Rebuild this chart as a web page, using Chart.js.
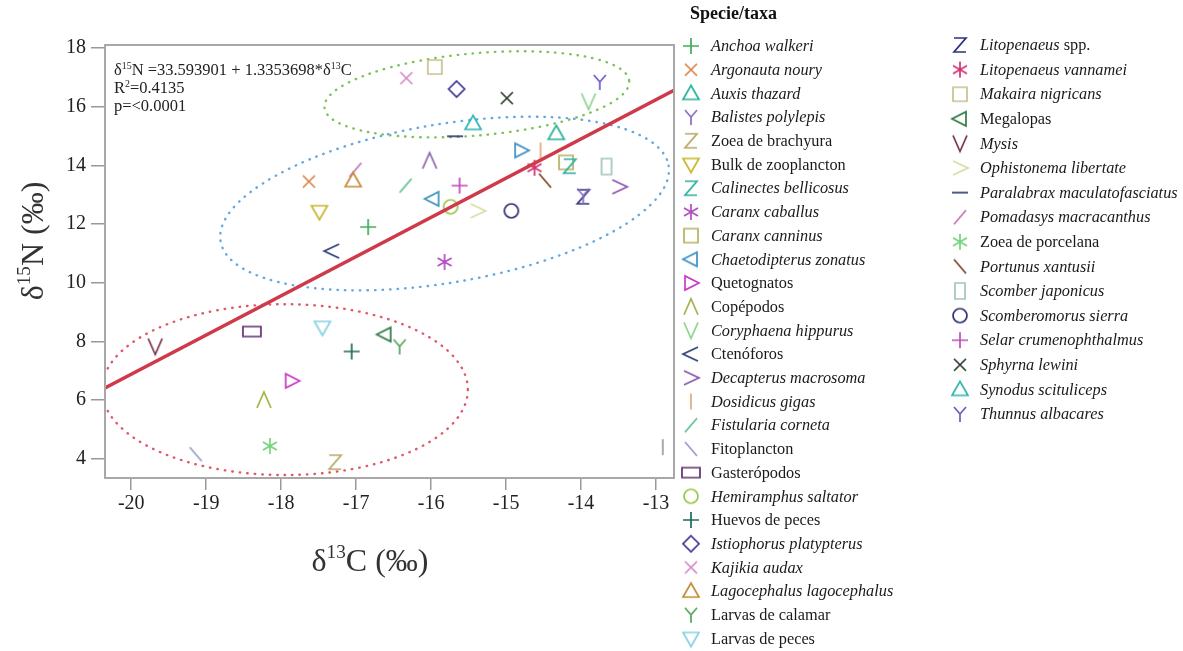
<!DOCTYPE html>
<html>
<head>
<meta charset="utf-8">
<script src="https://cdn.jsdelivr.net/npm/chart.js@4"></script>
<style>
  body { margin: 0; background: #fff; }
  #wrap { width: 1183px; height: 651px; }
</style>
</head>
<body>
<div id="wrap"><canvas id="myChart" width="1183" height="651"></canvas></div>
<script>
// species / taxa, in legend order
const species = [
  'Anchoa walkeri', 'Argonauta noury', 'Auxis thazard', 'Balistes polylepis', 'Zoea de brachyura',
  'Bulk de zooplancton', 'Calinectes bellicosus', 'Caranx caballus', 'Caranx canninus', 'Chaetodipterus zonatus',
  'Quetognatos', 'Copépodos', 'Coryphaena hippurus', 'Ctenóforos', 'Decapterus macrosoma',
  'Dosidicus gigas', 'Fistularia corneta', 'Fitoplancton', 'Gasterópodos', 'Hemiramphus saltator',
  'Huevos de peces', 'Istiophorus platypterus', 'Kajikia audax', 'Lagocephalus lagocephalus', 'Larvas de calamar',
  'Larvas de peces',
  'Litopenaeus spp.', 'Litopenaeus vannamei', 'Makaira nigricans', 'Megalopas', 'Mysis',
  'Ophistonema libertate', 'Paralabrax maculatofasciatus', 'Pomadasys macracanthus', 'Zoea de porcelana', 'Portunus xantusii',
  'Scomber japonicus', 'Scomberomorus sierra', 'Selar crumenophthalmus', 'Sphyrna lewini', 'Synodus scituliceps',
  'Thunnus albacares'
];
// scientific names are set in italics
const isTaxon = [
  true, true, true, true, false,
  false, true, true, true, true,
  false, false, true, false, true,
  true, true, false, false, true,
  false, true, true, true, false,
  false,
  true, true, true, false, true,
  true, true, true, false, true,
  true, true, true, true, true,
  true
];
// mean δ13C (‰)
const d13C = [
  -16.84, -17.63, -14.33, -13.97, -17.28,
  -17.49, -14.15, -15.82, -14.20, -15.98,
  -17.86, -18.23, -13.90, -17.32, -13.49,
  -14.54, -16.34, -19.14, -18.39, -15.74,
  -17.06, -15.66, -16.33, -17.04, -16.42,
  -17.45,
  -13.97, -14.62, -15.95, -16.62, -19.68,
  -15.38, -15.68, -17.01, -18.15, -14.48,
  -13.66, -14.93, -15.62, -14.99, -15.44,
  -13.75
];
// mean δ15N (‰)
const d15N = [
  11.90, 13.45, 15.09, 12.97, 3.89,
  12.42, 13.97, 10.71, 14.10, 12.86,
  6.66, 6.01, 16.18, 11.08, 13.27,
  14.51, 13.31, 4.16, 8.34, 12.59,
  7.66, 16.60, 16.97, 13.48, 7.83,
  8.48,
  12.93, 13.92, 17.35, 8.24, 7.83,
  12.45, 14.99, 13.85, 4.44, 13.48,
  13.96, 12.45, 13.31, 16.29, 15.43,
  16.84
];
const shapes = [
  'plus', 'cross', 'triUp', 'y', 'z',
  'triDown', 'z', 'star', 'square', 'triLeft',
  'triRight', 'caret', 'vee', 'less', 'greater',
  'bar', 'slash', 'backslash', 'wideRect', 'circle',
  'plus', 'diamond', 'cross', 'triUp', 'y',
  'triDown',
  'z', 'star', 'square', 'triLeft', 'vee',
  'greater', 'dash', 'slash', 'star', 'backslash',
  'tallRect', 'circle', 'plus', 'cross', 'triUp',
  'y'
];
const colors = [
  '#3fae5a', '#d9834a', '#27b39b', '#8b6cc4', '#b8a868',
  '#c9b62e', '#2bb0a0', '#b04cc0', '#b8b060', '#3a94bf',
  '#c83cc4', '#a2b043', '#86d48a', '#2f3c78', '#8a55a8',
  '#e4a878', '#5cc08e', '#9a9ccc', '#5e2f6e', '#98c84a',
  '#1f6a5c', '#3e3494', '#d688c6', '#c48c38', '#4fa656',
  '#86d2e4',
  '#2f2f7c', '#d43070', '#c8c090', '#2f7a44', '#7a2f44',
  '#d2e0a2', '#2f3c78', '#c074b6', '#72d47a', '#7c4424',
  '#a2c8b6', '#2f2f74', '#c04cbc', '#2c3c2c', '#2fb4b4',
  '#6a5cc4'
];

// unlabelled marks
const extraC = [-16.02, -14.80, -12.91];
const extraN = [14.16, 14.51, 4.40];
const extraShapes = ['caret', 'triRight', 'bar'];
const extraColors = ['#8a60a8', '#3d8fc0', '#9a9aa8'];

// fitted regression δ15N = a + b·δ13C
const fitIntercept = 33.593901;
const fitSlope = 1.3353698;

// trophic groups: centre (δ13C, δ15N), half-axes in axis units, tilt in degrees
const groupCx = [-15.39, -15.82, -17.95];
const groupCy = [16.42, 12.70, 6.36];
const groupRx = [2.04, 3.03, 2.44];
const groupRy = [1.40, 2.70, 2.91];
const groupTilt = [-5, -9.6, 0];
const groupColors = ['#7cc35a', '#63a8e0', '#e0586a'];

const xMin = -20.35, xMax = -12.76;
const yMin = 3.35, yMax = 18.1;

const SERIF = '"Liberation Serif", "Times New Roman", serif';

function makeMarker(shape, color) {
  const c = document.createElement('canvas');
  c.width = 24; c.height = 24;
  const g = c.getContext('2d');
  g.translate(12, 12);
  g.strokeStyle = color;
  g.lineWidth = 1.7;
  g.beginPath();
  switch (shape) {
    case 'plus': g.moveTo(-8, 0); g.lineTo(8, 0); g.moveTo(0, -8); g.lineTo(0, 8); break;
    case 'cross': g.moveTo(-6, -6); g.lineTo(6, 6); g.moveTo(6, -6); g.lineTo(-6, 6); break;
    case 'triUp': g.moveTo(0, -8); g.lineTo(8, 6); g.lineTo(-8, 6); g.closePath(); break;
    case 'triDown': g.moveTo(0, 8); g.lineTo(8, -6); g.lineTo(-8, -6); g.closePath(); break;
    case 'triLeft': g.moveTo(-8, 0); g.lineTo(6, -7); g.lineTo(6, 7); g.closePath(); break;
    case 'triRight': g.moveTo(8, 0); g.lineTo(-6, -7); g.lineTo(-6, 7); g.closePath(); break;
    case 'y': g.moveTo(-6, -7); g.lineTo(0, 0); g.lineTo(6, -7); g.moveTo(0, 0); g.lineTo(0, 8); break;
    case 'z': g.moveTo(-6, -7); g.lineTo(6, -7); g.lineTo(-6, 7); g.lineTo(6, 7); break;
    case 'vee': g.moveTo(-7, -8); g.lineTo(0, 8); g.lineTo(7, -8); break;
    case 'caret': g.moveTo(-7, 8); g.lineTo(0, -8); g.lineTo(7, 8); break;
    case 'less': g.moveTo(7, -7); g.lineTo(-8, 0); g.lineTo(7, 7); break;
    case 'greater': g.moveTo(-7, -7); g.lineTo(8, 0); g.lineTo(-7, 7); break;
    case 'bar': g.moveTo(0, -8); g.lineTo(0, 8); break;
    case 'slash': g.moveTo(-6, 7); g.lineTo(6, -7); break;
    case 'backslash': g.moveTo(-6, -7); g.lineTo(6, 7); break;
    case 'dash': g.moveTo(-8, 0); g.lineTo(8, 0); break;
    case 'star':
      g.moveTo(0, -8); g.lineTo(0, 8);
      g.moveTo(-7, -4); g.lineTo(7, 4);
      g.moveTo(-7, 4); g.lineTo(7, -4);
      break;
    case 'square': g.rect(-7, -7, 14, 14); break;
    case 'wideRect': g.rect(-9, -5, 18, 10); break;
    case 'tallRect': g.rect(-5, -8, 10, 16); break;
    case 'circle': g.arc(0, 0, 7, 0, Math.PI * 2); break;
    case 'diamond': g.moveTo(0, -8); g.lineTo(8, 0); g.lineTo(0, 8); g.lineTo(-8, 0); g.closePath(); break;
  }
  g.stroke();
  return c;
}

const markers = species.map((_, i) => makeMarker(shapes[i], colors[i]));
const extraMarkers = extraShapes.map((s, i) => makeMarker(s, extraColors[i]));

// text with superscripts: parts = [{t, sup, it, bold}]
function drawRich(ctx, parts, x, y, size, align) {
  const fontFor = p => {
    const s = p.sup ? size * 0.6 : size;
    return (p.it ? 'italic ' : '') + (p.bold ? 'bold ' : '') + s + 'px ' + SERIF;
  };
  let total = 0;
  parts.forEach(p => { ctx.font = fontFor(p); total += ctx.measureText(p.t).width; });
  let cx = align === 'center' ? x - total / 2 : x;
  ctx.textAlign = 'left';
  ctx.textBaseline = 'middle';
  parts.forEach(p => {
    ctx.font = fontFor(p);
    ctx.fillText(p.t, cx, p.sup ? y - size * 0.3 : y);
    cx += ctx.measureText(p.t).width;
  });
}

const decorPlugin = {
  id: 'decor',
  beforeDatasetsDraw(chart) {
    const { ctx, chartArea: a, scales: { x, y } } = chart;
    ctx.save();
    ctx.beginPath();
    ctx.rect(a.left, a.top, a.right - a.left, a.bottom - a.top);
    ctx.clip();
    ctx.setLineDash([0.5, 7]);
    ctx.lineCap = 'round';
    ctx.lineWidth = 2.4;
    groupCx.forEach((gx, i) => {
      const px = x.getPixelForValue(gx), py = y.getPixelForValue(groupCy[i]);
      const rx = Math.abs(x.getPixelForValue(gx + groupRx[i]) - px);
      const ry = Math.abs(y.getPixelForValue(groupCy[i] + groupRy[i]) - py);
      ctx.save();
      ctx.translate(px, py);
      ctx.rotate(groupTilt[i] * Math.PI / 180);
      ctx.beginPath();
      ctx.ellipse(0, 0, rx, ry, 0, 0, Math.PI * 2);
      ctx.strokeStyle = groupColors[i];
      ctx.stroke();
      ctx.restore();
    });
    ctx.restore();
  },
  afterDraw(chart) {
    const { ctx, chartArea: a } = chart;
    ctx.save();
    // plot frame
    ctx.strokeStyle = '#a8a8a8';
    ctx.lineWidth = 2;
    ctx.strokeRect(a.left, a.top, a.right - a.left, a.bottom - a.top);

    // regression statistics
    ctx.fillStyle = '#222';
    drawRich(ctx, [{ t: 'δ' }, { t: '15', sup: true }, { t: 'N =33.593901 + 1.3353698*δ' }, { t: '13', sup: true }, { t: 'C' }], a.left + 9, 71, 16.5);
    drawRich(ctx, [{ t: 'R' }, { t: '2', sup: true }, { t: '=0.4135' }], a.left + 9, 89, 16.5);
    drawRich(ctx, [{ t: 'p=<0.0001' }], a.left + 9, 107, 16.5);

    // axis titles
    ctx.fillStyle = '#333';
    drawRich(ctx, [{ t: 'δ' }, { t: '13', sup: true }, { t: 'C (‰)' }], 370, 563, 32, 'center');
    ctx.save();
    ctx.translate(35, 241);
    ctx.rotate(-Math.PI / 2);
    drawRich(ctx, [{ t: 'δ' }, { t: '15', sup: true }, { t: 'N (‰)' }], 0, 0, 32, 'center');
    ctx.restore();

    // legend
    ctx.fillStyle = '#111';
    drawRich(ctx, [{ t: 'Specie/taxa', bold: true }], 690, 14, 18);
    species.forEach((name, i) => {
      const col = i < 26 ? 0 : 1;
      const row = col === 0 ? i : i - 26;
      const mx = col === 0 ? 691 : 960;
      const my = col === 0 ? 46 + row * 23.7 : 45 + row * 24.6;
      ctx.drawImage(markers[i], mx - 12, my - 12);
      let parts;
      if (name.endsWith(' spp.')) {
        parts = [{ t: name.slice(0, -4), it: true }, { t: 'spp.' }];
      } else {
        parts = [{ t: name, it: isTaxon[i] }];
      }
      ctx.fillStyle = '#1a1a1a';
      drawRich(ctx, parts, mx + 20, my + 1, 16.3);
    });
    ctx.restore();
  }
};

const datasets = species.map((name, i) => ({
  label: name,
  data: [{ x: d13C[i], y: d15N[i] }],
  pointStyle: markers[i],
  pointRadius: 9,
  order: 2
}));
datasets.push({
  label: '',
  data: extraC.map((c, i) => ({ x: c, y: extraN[i] })),
  pointStyle: extraMarkers,
  pointRadius: 9,
  order: 2
});
datasets.push({
  label: 'fit',
  data: [xMin, xMax].map(c => ({ x: c, y: fitIntercept + fitSlope * c })),
  showLine: true,
  borderColor: '#cf3a4a',
  borderWidth: 3.5,
  pointRadius: 0,
  order: 1
});

const tickFont = { family: SERIF, size: 20 };

new Chart(document.getElementById('myChart'), {
  type: 'scatter',
  data: { datasets },
  options: {
    responsive: false,
    animation: false,
    devicePixelRatio: 1,
    layout: { padding: { left: 0, top: 45, right: 509, bottom: 0 } },
    plugins: { legend: { display: false }, tooltip: { enabled: false } },
    scales: {
      x: {
        type: 'linear',
        min: xMin, max: xMax,
        ticks: { stepSize: 1, includeBounds: false, font: tickFont, color: '#222', padding: 2 },
        grid: { drawOnChartArea: false, drawTicks: true, tickLength: 12, color: '#999', lineWidth: 1.5 },
        border: { display: false },
        afterFit(scale) { scale.height = 173; }
      },
      y: {
        type: 'linear',
        min: yMin, max: yMax,
        ticks: { stepSize: 2, includeBounds: false, font: tickFont, color: '#222', padding: 5 },
        grid: { drawOnChartArea: false, drawTicks: true, tickLength: 14, color: '#999', lineWidth: 1.5 },
        border: { display: false },
        afterFit(scale) { scale.width = 105; }
      }
    }
  },
  plugins: [decorPlugin]
});
</script>
</body>
</html>
